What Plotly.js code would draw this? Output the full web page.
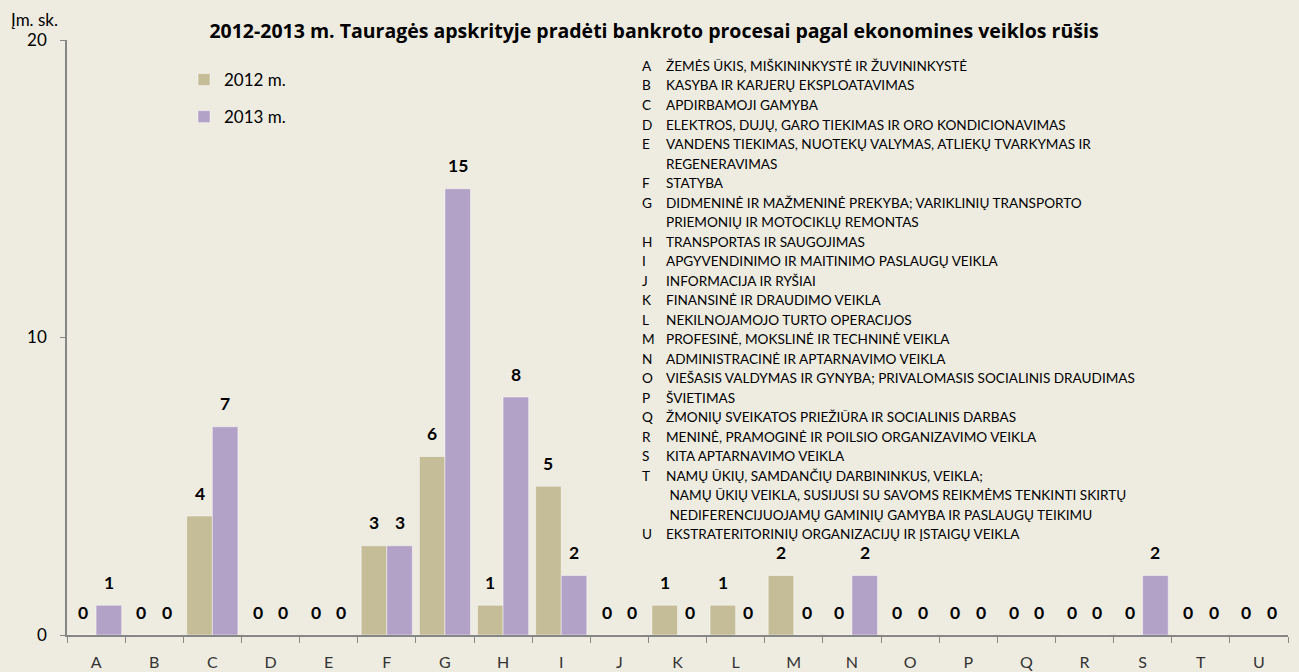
<!DOCTYPE html>
<html>
<head>
<meta charset="utf-8">
<script src="https://cdn.plot.ly/plotly-3.0.1.min.js"></script>
<style>html,body{margin:0;padding:0;background:#EEECE1;}#chart{width:1299px;height:672px;}</style>
</head>
<body>
<div id="chart"></div>
<script>
const categories = ["A","B","C","D","E","F","G","H","I","J","K","L","M","N","O","P","Q","R","S","T","U"];
const values2012 = [0,0,4,0,0,3,6,1,5,0,1,1,2,0,0,0,0,0,0,0,0];
const values2013 = [1,0,7,0,0,3,15,8,2,0,0,0,0,2,0,0,0,0,2,0,0];
const seriesNames = ["2012 m.", "2013 m."];
const titleText = "2012-2013 m. Tauragės apskrityje pradėti bankroto procesai pagal ekonomines veiklos rūšis";
const yAxisLabel = "Įm. sk.";
const yTicks = [0, 10, 20];
// [code, description lines]
const descriptions = [
  ["A", ["ŽEMĖS ŪKIS, MIŠKININKYSTĖ IR ŽUVININKYSTĖ"]],
  ["B", ["KASYBA IR KARJERŲ EKSPLOATAVIMAS"]],
  ["C", ["APDIRBAMOJI GAMYBA"]],
  ["D", ["ELEKTROS, DUJŲ, GARO TIEKIMAS IR ORO KONDICIONAVIMAS"]],
  ["E", ["VANDENS TIEKIMAS, NUOTEKŲ VALYMAS, ATLIEKŲ TVARKYMAS IR", "REGENERAVIMAS"]],
  ["F", ["STATYBA"]],
  ["G", ["DIDMENINĖ IR MAŽMENINĖ PREKYBA; VARIKLINIŲ TRANSPORTO", "PRIEMONIŲ IR MOTOCIKLŲ REMONTAS"]],
  ["H", ["TRANSPORTAS IR SAUGOJIMAS"]],
  ["I", ["APGYVENDINIMO IR MAITINIMO PASLAUGŲ VEIKLA"]],
  ["J", ["INFORMACIJA IR RYŠIAI"]],
  ["K", ["FINANSINĖ IR DRAUDIMO VEIKLA"]],
  ["L", ["NEKILNOJAMOJO TURTO OPERACIJOS"]],
  ["M", ["PROFESINĖ, MOKSLINĖ IR TECHNINĖ VEIKLA"]],
  ["N", ["ADMINISTRACINĖ IR APTARNAVIMO VEIKLA"]],
  ["O", ["VIEŠASIS VALDYMAS IR GYNYBA; PRIVALOMASIS SOCIALINIS DRAUDIMAS"]],
  ["P", ["ŠVIETIMAS"]],
  ["Q", ["ŽMONIŲ SVEIKATOS PRIEŽIŪRA IR SOCIALINIS DARBAS"]],
  ["R", ["MENINĖ, PRAMOGINĖ IR POILSIO ORGANIZAVIMO VEIKLA"]],
  ["S", ["KITA APTARNAVIMO VEIKLA"]],
  ["T", ["NAMŲ ŪKIŲ, SAMDANČIŲ DARBININKUS, VEIKLA;", " NAMŲ ŪKIŲ VEIKLA, SUSIJUSI SU SAVOMS REIKMĖMS TENKINTI SKIRTŲ", " NEDIFERENCIJUOJAMŲ GAMINIŲ GAMYBA IR PASLAUGŲ TEIKIMU"]],
  ["U", ["EKSTRATERITORINIŲ ORGANIZACIJŲ IR ĮSTAIGŲ VEIKLA"]]
];

const FONT = "Lato, 'Open Sans', sans-serif";
const TITLE_FONT = "'Open Sans', Lato, sans-serif";
const colors = ["#C4BD97", "#B3A2C7"];

// layout geometry
const W = 1299, H = 672;
const M = {l: 67, r: 11, t: 40, b: 37};
const plotW = W - M.l - M.r, plotTop = M.t, plotBottom = H - M.b;
const bargap = 0.12;

function mkBar(vals, name, color, grp) {
  return {
    type: "bar", x: categories, y: vals, name: name,
    legendgroup: grp,
    marker: {color: color, line: {color: "rgba(255,255,255,0.45)", width: 1}},
    hoverinfo: "x+y"
  };
}

const traces = [
  mkBar(values2012, seriesNames[0], colors[0], "g1"),
  mkBar(values2013, seriesNames[1], colors[1], "g2")
];

const annotations = [];
// value labels, placed through the axes at each bar
const catW = plotW / categories.length;
const barW = catW * (1 - bargap) / 2;
[values2012, values2013].forEach((vals, s) => {
  const shift = (s === 0 ? -1 : 1) * barW / 2;
  vals.forEach((v, i) => {
    annotations.push({xref: "x", yref: "y", x: categories[i], y: v, xshift: shift, yshift: 23,
      xanchor: "center", yanchor: "middle", text: "<b>" + v + "</b>", showarrow: false,
      font: {family: FONT, size: 17.5, color: "#000"}});
  });
});

// description list
const lineStep = 19.5;
let line = 0;
function pyToPaper(py) { return (plotBottom - py) / (plotBottom - plotTop); }
function pxToPaper(px) { return (px - M.l) / plotW; }
descriptions.forEach(([code, lines]) => {
  lines.forEach((txt, i) => {
    const py = 66 + line * lineStep;
    if (i === 0) {
      annotations.push({xref: "paper", yref: "paper", x: pxToPaper(640), y: pyToPaper(py),
        xanchor: "left", yanchor: "middle", text: code, showarrow: false,
        font: {family: FONT, size: 13.6, color: "#000"}});
    }
    annotations.push({xref: "paper", yref: "paper", x: pxToPaper(664), y: pyToPaper(py),
      xanchor: "left", yanchor: "middle", text: txt, showarrow: false,
      font: {family: FONT, size: 13.6, color: "#000"}});
    line++;
  });
});
annotations.push({xref: "paper", yref: "paper", x: pxToPaper(9), y: pyToPaper(20),
  xanchor: "left", yanchor: "middle", text: yAxisLabel, showarrow: false,
  font: {family: FONT, size: 17, color: "#000"}});

const layout = {
  width: W, height: H,
  paper_bgcolor: "#EEECE1", plot_bgcolor: "#EEECE1",
  margin: M,
  title: {text: "<b>" + titleText + "</b>", x: 654 / W, xanchor: "center", y: 1 - 31 / H, yanchor: "middle",
    font: {family: TITLE_FONT, size: 19.5, color: "#000"}},
  barmode: "group", bargap: bargap, bargroupgap: 0,
  showlegend: true,
  legend: {x: pxToPaper(184), y: pyToPaper(62), xanchor: "left", yanchor: "top",
    bgcolor: "rgba(0,0,0,0)", font: {family: FONT, size: 17, color: "#000"},
    traceorder: "grouped", tracegroupgap: 12},
  xaxis: {type: "category", tickson: "boundaries", ticks: "outside", ticklen: 6, tickcolor: "#868686",
    showline: true, linecolor: "#868686", linewidth: 1.5, showgrid: false, zeroline: false,
    tickfont: {family: FONT, size: 16, color: "#333"}, ticklabelstandoff: 12},
  yaxis: {range: [0, 20], tickvals: yTicks, ticks: "outside", ticklen: 5, tickcolor: "#868686",
    showline: true, linecolor: "#868686", linewidth: 1.5, showgrid: false, zeroline: false,
    tickfont: {family: FONT, size: 17, color: "#000"}, ticklabelstandoff: 10},
  annotations: annotations
};

Plotly.newPlot("chart", traces, layout, {displayModeBar: false});
</script>
</body>
</html>
